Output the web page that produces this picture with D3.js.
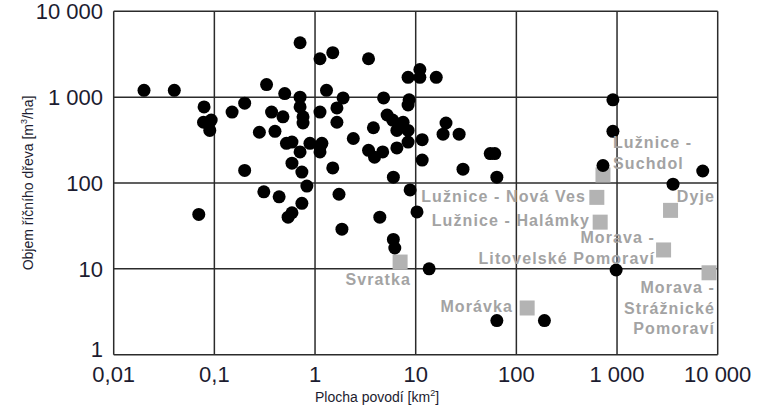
<!DOCTYPE html>
<html>
<head>
<meta charset="utf-8">
<script src="https://cdn.jsdelivr.net/npm/d3@7"></script>
<style>
  body { margin: 0; background: #fff; }
  svg { display: block; font-family: "Liberation Sans", Arial, sans-serif; }
</style>
</head>
<body>
<div id="chart"></div>
<script>
// catchment area [km2] and wood volume [m3/ha]
const dotArea = [0.02, 0.04, 0.079, 0.078, 0.093, 0.09, 0.07, 0.15, 0.2, 0.2,
  0.28, 0.33, 0.37, 0.4, 0.48, 0.5, 0.52, 0.59, 0.31, 0.44,
  0.54, 0.59, 0.59, 0.71, 0.71, 0.71, 0.76, 0.76, 0.71, 0.74,
  0.74, 0.83, 0.89, 1.12, 1.5, 1.12, 1.17, 1.12, 1.12, 1.3,
  1.5, 1.65, 1.65, 1.9, 1.73, 1.85, 2.4, 3.4, 3.4, 3.9,
  3.8, 4.7, 4.8, 4.4, 5.2, 5.9, 7.5, 6.5, 8.4, 6.5,
  8.4, 8.6, 8.4, 8.4, 11, 11, 16, 6, 6, 6.2,
  8.8, 10.3, 11.6, 11.6, 13.6, 20, 18.7, 27, 29.5, 55,
  61, 64, 64, 190, 910, 910, 725, 980, 3600, 7100];
const dotVolume = [1200, 1200, 770, 510, 540, 410, 43, 670, 850, 140,
  390, 1400, 670, 400, 590, 1100, 290, 170, 79, 69,
  40, 45, 300, 4300, 1000, 770, 590, 500, 230, 134,
  58, 92, 290, 2800, 3300, 670, 290, 260, 230, 1200,
  150, 750, 510, 980, 74, 29, 330, 2800, 240, 200,
  440, 230, 980, 40, 620, 540, 510, 410, 410, 256,
  300, 930, 810, 1700, 2100, 1700, 1700, 117, 22, 17.5,
  83, 46, 320, 185, 10, 500, 370, 370, 145, 220,
  220, 117, 2.5, 2.5, 930, 400, 160, 9.7, 97, 138];

// highlighted sites (grey squares)
const siteNames = [["Svratka"], ["Morávka"], ["Lužnice -", "Suchdol"], ["Lužnice - Nová Ves"],
  ["Lužnice - Halámky"], ["Dyje"], ["Morava -", "Litovelské Pomoraví"], ["Morava -", "Strážnické", "Pomoraví"]];
const siteArea = [7, 128, 725, 630, 680, 3400, 2900, 8200];
const siteVolume = [12, 3.5, 124, 68, 35, 48, 16.6, 9];

const xTicks = [0.01, 0.1, 1, 10, 100, 1000, 10000];
const xTickLabels = ["0,01", "0,1", "1", "10", "100", "1 000", "10 000"];
const yTicks = [1, 10, 100, 1000, 10000];
const yTickLabels = ["1", "10", "100", "1 000", "10 000"];

const width = 762, height = 409;
const svg = d3.select('#chart').append('svg')
  .attr('width', width)
  .attr('height', height);

const x = d3.scaleLog().domain([0.01, 10000]).range([113.7, 717.7]);
const y = d3.scaleLog().domain([1, 10000]).range([354.7, 11.3]);

const lineColor = '#2b2b2b';
const tickColor = '#1c1c30';

// grid
const grid = svg.append('g').attr('stroke', lineColor).attr('stroke-width', 1.5);
grid.selectAll('line.vx').data(xTicks).join('line')
  .attr('x1', d => x(d)).attr('x2', d => x(d))
  .attr('y1', y(10000)).attr('y2', y(1));
grid.selectAll('line.hy').data(yTicks).join('line')
  .attr('y1', d => y(d)).attr('y2', d => y(d))
  .attr('x1', x(0.01)).attr('x2', x(10000));

// tick labels
svg.append('g').selectAll('text').data(xTicks).join('text')
  .attr('x', d => x(d))
  .attr('y', 382)
  .attr('text-anchor', 'middle')
  .attr('font-size', 22)
  .attr('fill', tickColor)
  .text((d, i) => xTickLabels[i]);

// the bottom "1" sits a bit above its line in the original, clear of "0,01"
svg.append('g').selectAll('text').data(yTicks).join('text')
  .attr('x', 103)
  .attr('y', d => y(d) + (d === 1 ? 2.5 : 8))
  .attr('text-anchor', 'end')
  .attr('font-size', 22)
  .attr('fill', tickColor)
  .text((d, i) => yTickLabels[i]);

// axis titles
const xt = svg.append('text')
  .attr('x', 377).attr('y', 402)
  .attr('text-anchor', 'middle')
  .attr('font-size', 14)
  .attr('fill', tickColor);
xt.append('tspan').text('Plocha povodí [km');
xt.append('tspan').attr('font-size', 9).attr('dy', -6).text('2');
xt.append('tspan').attr('dy', 6).text(']');

const yt = svg.append('text')
  .attr('transform', 'translate(33,183) rotate(-90)')
  .attr('text-anchor', 'middle')
  .attr('font-size', 14)
  .attr('fill', tickColor);
yt.append('tspan').text('Objem říčního dřeva [m');
yt.append('tspan').attr('font-size', 9).attr('dy', -6).text('3');
yt.append('tspan').attr('dy', 6).text('/ha]');

// squares
const sq = 15;
svg.append('g').selectAll('rect').data(siteArea).join('rect')
  .attr('x', (d, i) => Math.min(x(d) - sq / 2, x(10000) - sq))
  .attr('y', (d, i) => y(siteVolume[i]) - sq / 2)
  .attr('width', sq).attr('height', sq)
  .attr('fill', '#b3b3b3');

// dots
svg.append('g').selectAll('circle').data(dotArea).join('circle')
  .attr('cx', d => x(d))
  .attr('cy', (d, i) => y(dotVolume[i]))
  .attr('r', 6.5)
  .attr('fill', '#000');

// site labels: [anchor, x, first baseline]
const labelPos = [['end', 411, 285], ['end', 513, 312], ['start', 613, 148], ['end', 586, 202],
  ['end', 590, 226], ['end', 715, 202], ['end', 655, 243], ['end', 715, 293]];
const labels = svg.append('g')
  .attr('font-size', 16).attr('font-weight', 'bold')
  .attr('letter-spacing', 1.1).attr('fill', '#a3a3a3');
siteNames.forEach((lines, i) => {
  const t = labels.append('text')
    .attr('text-anchor', labelPos[i][0])
    .attr('x', labelPos[i][1])
    .attr('y', labelPos[i][2]);
  lines.forEach((s, k) => {
    t.append('tspan').attr('x', labelPos[i][1]).attr('dy', k === 0 ? 0 : 20.5).text(s);
  });
});
</script>
</body>
</html>
